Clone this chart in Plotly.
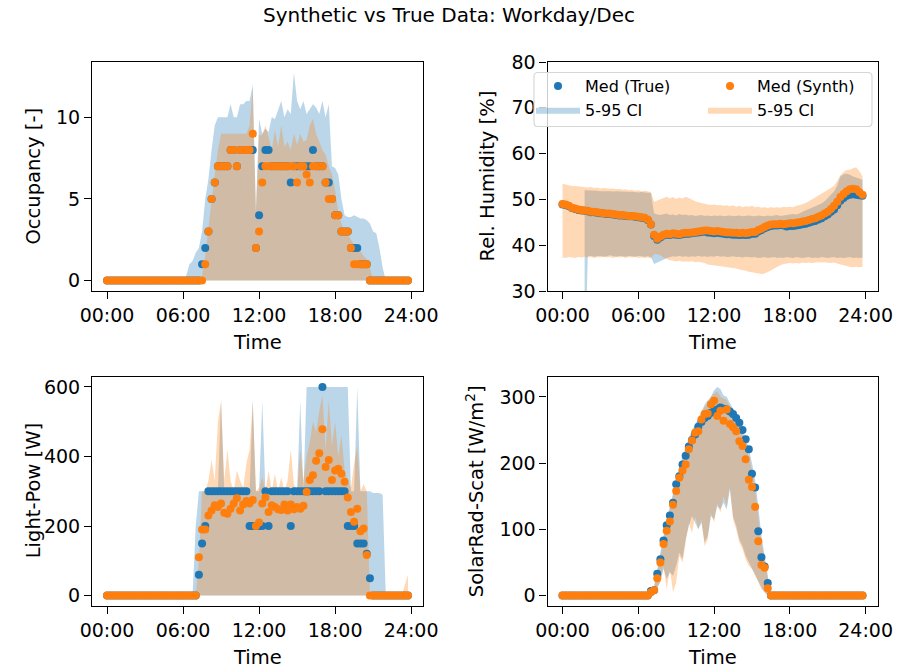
import plotly.graph_objects as go
from plotly.subplots import make_subplots

# ---------------- data (96 quarter-hour steps, hours 0 .. 23.75) ----------------
hours = [i * 0.25 for i in range(96)]
tick_vals = [0, 6, 12, 18, 24]
tick_text = ["00:00", "06:00", "12:00", "18:00", "24:00"]

# Occupancy
occ_true_med = [0]*30 + [1, 2, 3, 5, 6, 7, 7, 7, 7, 8,
                         8, 7, 8, 8, 8, 8, 8, 2, 4, 7,
                         8, 8, 7, 7, 7, 7, 7, 7, 6, 7,
                         7, 7, 7, 7, 7, 8, 7, 7, 7, 6,
                         6, 5, 4, 4, 3, 3, 3, 2, 2, 2,
                         1, 1, 1] + [0]*13
occ_synth_med = [0]*31 + [1, 3, 5, 6, 7, 7, 7, 7, 8,
                          8, 7, 8, 8, 8, 8, 9, 2, 3, 6,
                          7, 7, 7, 7, 7, 7, 7, 7, 7, 7,
                          6, 7, 7, 6.5, 6, 7, 7, 7, 7, 6,
                          5, 5, 4, 4, 3, 3, 3, 2, 1, 1,
                          1, 1, 1] + [0]*13
occ_true_hi = [0]*25 + [0.3, 1.0, 1.2, 1.7, 2.0,
                        3.0, 5.0, 6.2, 8.0, 9.5, 10.0, 10.0, 10.0, 10.0, 10.8,
                        10.0, 10.0, 10.8, 10.8, 11.0, 11.0, 12.0, 4.2, 9.9, 9.0,
                        9.3, 9.1, 10.0, 9.9, 10.5, 11.0, 10.0, 10.5, 10.2, 12.75,
                        11.0, 10.5, 11.0, 10.2, 10.5, 10.8, 10.6, 10.2, 11.0, 10.0,
                        10.8, 7.0, 6.9, 6.5, 5.0, 4.0, 3.9, 3.9, 4.0, 3.9,
                        3.8, 3.8, 3.7, 3.5, 3.0, 2.9, 2.0, 0.8] + [0]*8
occ_true_lo = [0]*96
occ_synth_hi = [0]*30 + [0.3, 1.5, 3.2, 5.0, 6.5, 8.0, 9.0, 9.0, 9.0, 9.0,
                         9.0, 9.0, 9.0, 9.0, 9.0, 9.5, 11.8, 4.2, 8.9, 8.9,
                         9.5, 8.8, 8.0, 9.2, 8.2, 9.5, 8.2, 8.5, 8.0, 9.0,
                         8.3, 9.0, 8.5, 8.6, 9.5, 9.9, 9.0, 8.5, 8.0, 7.7,
                         7.0, 6.5, 5.5, 4.2, 3.5, 3.0, 2.8, 2.5, 2.2, 2.0,
                         1.8, 1.5, 1.3, 0.8] + [0]*12
occ_synth_lo = [0]*96

# Relative humidity
hum_synth_med = [49.0, 48.9, 48.6, 48.2, 48.0, 47.8, 47.7, 47.6, 47.5, 47.3,
                 47.3, 47.2, 47.1, 47.0, 46.9, 46.9, 46.8, 46.7, 46.6, 46.6,
                 46.5, 46.4, 46.4, 46.3, 46.2, 46.1, 46.0, 45.6, 44.6, 42.3,
                 41.4, 41.9, 42.3, 42.5, 42.4, 42.6, 42.5, 42.4, 42.6, 42.7,
                 42.7, 42.8, 42.9, 43.0, 43.1, 43.2, 43.2, 43.1, 43.0, 43.1,
                 43.0, 42.9, 42.8, 42.8, 42.7, 42.7, 42.6, 42.7, 42.6, 42.7,
                 42.9, 42.9, 43.3, 43.6, 44.0, 44.3, 44.5, 44.6, 44.6, 44.7,
                 44.6, 44.7, 44.8, 44.8, 44.9, 45.0, 45.2, 45.3, 45.5, 45.7,
                 45.9, 46.2, 46.5, 46.9, 47.3, 47.9, 48.6, 49.5, 50.5, 51.2,
                 51.8, 52.2, 52.3, 52.2, 51.6, 51.0]
hum_true_med = [48.9, 48.8, 48.5, 48.1, 47.9, 47.7, 47.6, 47.5, 47.4, 47.2,
                47.2, 47.1, 47.0, 46.9, 46.8, 46.8, 46.7, 46.6, 46.5, 46.5,
                46.4, 46.3, 46.3, 46.2, 46.1, 46.0, 45.9, 45.5, 44.5, 42.0,
                41.2, 41.7, 42.1, 42.3, 42.2, 42.4, 42.3, 42.2, 42.4, 42.5,
                42.5, 42.6, 42.7, 42.8, 42.9, 43.0, 42.8, 42.7, 42.6, 42.7,
                42.6, 42.5, 42.4, 42.4, 42.3, 42.3, 42.2, 42.3, 42.2, 42.3,
                42.5, 42.5, 43.0, 43.3, 43.7, 44.0, 44.2, 44.3, 44.3, 44.4,
                44.3, 44.1, 44.2, 44.2, 44.3, 44.4, 44.6, 44.7, 44.9, 45.1,
                45.3, 45.6, 45.9, 46.3, 46.7, 47.3, 47.8, 48.7, 49.7, 50.3,
                50.8, 51.0, 51.1, 51.0, 50.9, 50.8]
hum_synth_hi = [53.4, 53.2, 53.0, 52.9, 52.9, 52.8, 52.8, 52.7, 52.6, 52.7,
                52.5, 52.6, 52.4, 52.5, 52.4, 52.3, 52.4, 52.2, 52.3, 52.1,
                52.2, 52.0, 52.1, 51.9, 52.0, 51.8, 51.9, 51.7, 51.6, 49.5,
                49.8, 50.1, 50.3, 50.6, 50.2, 50.5, 50.1, 50.4, 50.2, 50.6,
                50.3, 49.9, 49.6, 49.4, 49.2, 49.0, 48.9, 48.8, 48.9, 48.7,
                48.8, 48.6, 48.7, 48.5, 48.7, 48.4, 48.6, 48.3, 48.5, 48.4,
                48.6, 48.3, 48.4, 48.2, 48.3, 48.1, 48.3, 48.2, 48.3, 48.2,
                48.4, 48.3, 48.4, 48.3, 48.6, 48.7, 48.9, 49.2, 49.6, 50.0,
                50.4, 50.8, 51.2, 51.6, 52.0, 52.5, 53.0, 54.0, 55.3, 56.0,
                56.4, 56.5, 56.8, 57.0, 56.2, 55.0]
hum_synth_lo = [37.3, 37.2, 37.4, 37.3, 37.2, 37.4, 37.3, 37.5, 37.3, 37.4,
                37.2, 37.4, 37.3, 37.5, 37.3, 37.4, 37.2, 37.4, 37.3, 37.4,
                37.2, 37.4, 37.3, 37.4, 37.2, 37.3, 37.2, 37.3, 37.1, 38.0,
                38.0, 37.8, 37.3, 37.0, 36.7, 36.6, 36.5, 36.6, 36.4, 36.5,
                36.4, 36.5, 36.3, 36.4, 36.2, 36.1, 35.8, 35.7, 35.5, 35.4,
                35.3, 35.2, 35.1, 35.0, 35.0, 34.9, 34.7, 34.5, 34.4, 34.2,
                34.0, 33.9, 33.8, 33.7, 33.8, 34.1, 34.5, 34.9, 35.3, 35.6,
                35.9, 36.0, 36.1, 36.0, 36.1, 36.0, 36.2, 36.1, 36.2, 36.1,
                36.2, 36.3, 36.2, 36.3, 36.2, 36.1, 36.2, 36.0, 35.8, 35.6,
                35.4, 35.3, 35.2, 35.3, 35.2, 35.3]
hum_true_hi = [None]*7 + [52.0, 52.0, 51.9,
               51.9, 51.9, 51.8, 51.8, 51.9, 51.8, 51.7, 51.8, 51.7, 51.7,
               51.6, 51.7, 51.6, 51.6, 51.5, 51.6, 51.5, 51.5, 51.4, 47.0,
               46.7, 46.6, 46.8, 46.9, 46.6, 46.7, 46.5, 46.8, 46.6, 46.7,
               46.5, 46.6, 46.4, 46.5, 46.6, 46.4, 46.5, 46.3, 46.5, 46.4,
               46.5, 46.3, 46.4, 46.5, 46.3, 46.4, 46.5, 46.3, 46.4, 46.5,
               46.4, 46.3, 46.5, 46.4, 46.3, 46.5, 46.4, 46.5, 46.6, 46.4,
               46.5, 46.6, 46.7, 46.8, 46.7, 46.9, 47.3, 47.6, 47.9, 48.2,
               48.5, 48.8, 49.1, 49.6, 50.3, 51.0, 51.7, 53.0, 55.0, 55.5,
               55.6, 55.4, 55.0, 54.8, 54.5, 54.3]
hum_true_lo = [None]*7 + [10.0, 37.6, 37.7,
               37.5, 37.6, 37.7, 37.5, 37.6, 37.8, 37.6, 37.5, 37.7, 37.6,
               37.5, 37.7, 37.6, 37.5, 37.7, 37.6, 37.5, 37.6, 37.4, 35.9,
               36.2, 36.5, 36.8, 37.2, 37.4, 37.6, 37.5, 37.7, 37.5, 37.6,
               37.4, 37.6, 37.5, 37.7, 37.5, 37.6, 37.4, 37.6, 37.5, 37.7,
               37.5, 37.6, 37.4, 37.5, 37.6, 37.4, 37.5, 37.3, 37.5, 37.4,
               37.3, 37.4, 37.2, 37.3, 37.4, 37.2, 37.3, 37.4, 37.2, 37.3,
               37.2, 37.4, 37.3, 37.2, 37.4, 37.3, 37.2, 37.3, 37.4, 37.2,
               37.3, 37.2, 37.4, 37.3, 37.2, 37.3, 37.4, 37.2, 37.3, 37.2,
               37.3, 37.4, 37.2, 37.3, 37.2, 37.3]

# Light power
light_true_med = ([0]*29 + [60, 150, 200] + [300]*13 + [200]*5 + [300] + [200] +
                  [300]*6 + [200] + [300]*9 + [600] + [300]*7 + [200, 200, 200] +
                  [150, 150, 150] + [120, 50] + [0]*12)
light_synth_med = [0]*29 + [110, 190, 190, 230, 245, 260, 255, 265, 238, 235, 250,
                            265, 280, 245, 262, 272, 265, 275, 200, 210, 265,
                            282, 240, 260, 255, 248, 246, 262, 245, 262, 248,
                            255, 250, 258, 298, 332, 346, 388, 409, 478, 370,
                            390, 332, 360, 365, 350, 327, 282, 240, 212, 250,
                            185, 193, 117] + [0]*13
light_true_hi = [0]*28 + [200, 300, 300, 300, 300, 300, 300, 300, 560, 300,
                          300, 300, 300, 300, 300, 300, 300, 300, 560, 300,
                          300, 560, 300, 300, 300, 300, 300, 300, 300, 300,
                          300, 300, 300, 560, 300, 600, 600, 600, 600, 600,
                          600, 600, 600, 600, 600, 600, 600, 600, 600, 300,
                          300, 600, 300, 300, 300, 300, 295, 295, 295, 290] + [0]*8
light_true_lo = [0]*96
light_synth_hi = [0]*29 + [100, 300, 300, 330, 390, 330, 500, 560, 330, 420, 330,
                           300, 360, 330, 310, 380, 420, 560, 300, 310, 340,
                           300, 360, 300, 350, 300, 340, 300, 330, 420, 320,
                           300, 420, 330, 400, 440, 500, 470, 530, 575, 420,
                           560, 430, 500, 400, 460, 360, 330, 310, 380, 430,
                           300, 320, 300, 0] + [0]*10 + [30, 60]
light_synth_lo = [0]*96

# Scattered solar radiation
solar_true_med = [0]*28 + [7, 8, 33, 55, 83, 106, 121, 140, 168, 180,
                           198, 211, 225, 235, 243, 255, 262, 268, 271, 276,
                           279, 281, 284, 282, 281, 278, 274, 268, 261, 250,
                           236, 221, 184, 163, 97, 58, 44, 19] + [0]*30
solar_synth_med = [0]*28 + [5, 8, 26, 50, 78, 98, 112, 137, 158, 178,
                            189, 198, 221, 234, 246, 248, 266, 274, 275, 289,
                            294, 271, 279, 264, 281, 259, 254, 248, 233, 226,
                            206, 175, 164, 134, 82, 46, 42, 11] + [0]*30
solar_true_hi = [0]*28 + [8, 15, 40, 65, 92, 115, 135, 155, 178, 195,
                          210, 222, 238, 250, 258, 268, 278, 288, 295, 300,
                          310, 315, 312, 302, 300, 292, 282, 272, 262, 250,
                          238, 222, 200, 175, 135, 90, 60, 28] + [0]*30
solar_true_lo = [0]*28 + [0, 3, 12, 22, 40, 25, 35, 30, 45, 65,
                          55, 85, 105, 120, 110, 100, 110, 80, 90, 120,
                          115, 135, 130, 140, 130, 160, 120, 105, 85, 75,
                          60, 50, 42, 32, 22, 12, 5, 0] + [0]*30
solar_synth_hi = [0]*28 + [5, 12, 35, 60, 90, 110, 130, 150, 170, 190,
                           205, 215, 235, 245, 255, 262, 275, 285, 290, 300,
                           305, 308, 300, 298, 295, 285, 275, 265, 255, 245,
                           228, 210, 190, 160, 120, 80, 55, 25] + [0]*30
solar_synth_lo = [0]*28 + [0, 2, 10, 20, 45, 10, 40, 5, 20, 60,
                           50, 80, 110, 95, 120, 100, 115, 75, 85, 125,
                           110, 140, 125, 150, 135, 165, 115, 100, 80, 70,
                           55, 45, 40, 30, 20, 10, 5, 0] + [0]*30

# ---------------- styling ----------------
BLUE = "#1f77b4"
ORANGE = "#ff7f0e"
BLUE_F = "rgba(31,119,180,0.3)"
ORANGE_F = "rgba(255,127,14,0.3)"
FONT = "DejaVu Sans"
W, H = 897, 671

fig = make_subplots(rows=2, cols=2)


def band(xs, hi, lo):
    px, py_hi, py_lo = [], [], []
    for x, h, l in zip(xs, hi, lo):
        if h is None or l is None:
            continue
        px.append(x)
        py_hi.append(h)
        py_lo.append(l)
    return px + px[::-1], py_hi + py_lo[::-1]


panels = [
    (1, 1, occ_true_med, occ_true_hi, occ_true_lo, occ_synth_med, occ_synth_hi, occ_synth_lo),
    (1, 2, hum_true_med, hum_true_hi, hum_true_lo, hum_synth_med, hum_synth_hi, hum_synth_lo),
    (2, 1, light_true_med, light_true_hi, light_true_lo, light_synth_med, light_synth_hi, light_synth_lo),
    (2, 2, solar_true_med, solar_true_hi, solar_true_lo, solar_synth_med, solar_synth_hi, solar_synth_lo),
]

for (r, c, tmed, thi, tlo, smed, shi, slo) in panels:
    legend_panel = (r == 1 and c == 2)
    bx, by = band(hours, thi, tlo)
    fig.add_trace(go.Scatter(x=bx, y=by, fill="toself", fillcolor=BLUE_F, mode="lines",
                             line=dict(width=0, color=BLUE_F), name="5-95 CI",
                             showlegend=legend_panel, legend="legend", legendrank=2,
                             hoverinfo="skip"), row=r, col=c)
    ox, oy = band(hours, shi, slo)
    fig.add_trace(go.Scatter(x=ox, y=oy, fill="toself", fillcolor=ORANGE_F, mode="lines",
                             line=dict(width=0, color=ORANGE_F), name="5-95 CI",
                             showlegend=legend_panel, legend="legend2", legendrank=2,
                             hoverinfo="skip"), row=r, col=c)
    fig.add_trace(go.Scatter(x=hours, y=tmed, mode="markers", name="Med (True)",
                             marker=dict(color=BLUE, size=8, line=dict(width=0)),
                             showlegend=legend_panel, legend="legend", legendrank=1),
                  row=r, col=c)
    fig.add_trace(go.Scatter(x=hours, y=smed, mode="markers", name="Med (Synth)",
                             marker=dict(color=ORANGE, size=8, line=dict(width=0)),
                             showlegend=legend_panel, legend="legend2", legendrank=1),
                  row=r, col=c)

xl = [92 / W, 423 / W]
xr = [547.5 / W, 877.5 / W]
yt = [1 - 291 / H, 1 - 62 / H]
yb = [1 - 606 / H, 1 - 376.5 / H]

axis_common = dict(showline=True, mirror=True, linecolor="black", linewidth=1.1,
                   ticks="outside", ticklen=7, tickwidth=1.1, tickcolor="black",
                   showgrid=False, zeroline=False, automargin=False,
                   tickfont=dict(family=FONT, size=19, color="black"))
xr_range = [-1.1875, 24.9375]

fig.update_layout(
    xaxis=dict(domain=xl, range=xr_range, tickvals=tick_vals, ticktext=tick_text, **axis_common),
    xaxis2=dict(domain=xr, range=xr_range, tickvals=tick_vals, ticktext=tick_text, **axis_common),
    xaxis3=dict(domain=xl, range=xr_range, tickvals=tick_vals, ticktext=tick_text, **axis_common),
    xaxis4=dict(domain=xr, range=xr_range, tickvals=tick_vals, ticktext=tick_text, **axis_common),
    yaxis=dict(domain=yt, range=[-0.6375, 13.3875], tickvals=[0, 5, 10], **axis_common),
    yaxis2=dict(domain=yt, range=[30, 80], tickvals=[30, 40, 50, 60, 70, 80], **axis_common),
    yaxis3=dict(domain=yb, range=[-30, 630], tickvals=[0, 200, 400, 600], **axis_common),
    yaxis4=dict(domain=yb, range=[-15.75, 330.75], tickvals=[0, 100, 200, 300], **axis_common),
)

ann_font = dict(family=FONT, size=19.5, color="black")
annotations = [
    dict(text="Synthetic vs True Data: Workday/Dec", x=0.5, y=1 - 15 / H, xref="paper", yref="paper",
         xanchor="center", yanchor="middle", showarrow=False, font=dict(family=FONT, size=20, color="black")),
    dict(text="Time", x=sum(xl) / 2, y=1 - 342 / H, xref="paper", yref="paper",
         xanchor="center", yanchor="middle", showarrow=False, font=ann_font),
    dict(text="Time", x=sum(xr) / 2, y=1 - 342 / H, xref="paper", yref="paper",
         xanchor="center", yanchor="middle", showarrow=False, font=ann_font),
    dict(text="Time", x=sum(xl) / 2, y=1 - 657 / H, xref="paper", yref="paper",
         xanchor="center", yanchor="middle", showarrow=False, font=ann_font),
    dict(text="Time", x=sum(xr) / 2, y=1 - 657 / H, xref="paper", yref="paper",
         xanchor="center", yanchor="middle", showarrow=False, font=ann_font),
    dict(text="Occupancy [-]", x=33 / W, y=sum(yt) / 2, xref="paper", yref="paper", textangle=-90,
         xanchor="center", yanchor="middle", showarrow=False, font=ann_font),
    dict(text="Rel. Humidity [%]", x=487 / W, y=sum(yt) / 2, xref="paper", yref="paper", textangle=-90,
         xanchor="center", yanchor="middle", showarrow=False, font=ann_font),
    dict(text="Light-Pow [W]", x=33 / W, y=sum(yb) / 2, xref="paper", yref="paper", textangle=-90,
         xanchor="center", yanchor="middle", showarrow=False, font=ann_font),
    dict(text="SolarRad-Scat [W/m<sup>2</sup>]", x=475 / W, y=sum(yb) / 2, xref="paper", yref="paper",
         textangle=-90, xanchor="center", yanchor="middle", showarrow=False, font=ann_font),
]

# legend frame (rounded rectangle) in paper pixels
lx0, lx1, ly0, ly1, rr = 534, 872, 72.5, 126.5, 4


def px_x(v):
    return v / W


def px_y(v):
    return 1 - v / H


frame_path = (
    f"M{px_x(lx0 + rr)},{px_y(ly0)} L{px_x(lx1 - rr)},{px_y(ly0)} "
    f"Q{px_x(lx1)},{px_y(ly0)} {px_x(lx1)},{px_y(ly0 + rr)} "
    f"L{px_x(lx1)},{px_y(ly1 - rr)} Q{px_x(lx1)},{px_y(ly1)} {px_x(lx1 - rr)},{px_y(ly1)} "
    f"L{px_x(lx0 + rr)},{px_y(ly1)} Q{px_x(lx0)},{px_y(ly1)} {px_x(lx0)},{px_y(ly1 - rr)} "
    f"L{px_x(lx0)},{px_y(ly0 + rr)} Q{px_x(lx0)},{px_y(ly0)} {px_x(lx0 + rr)},{px_y(ly0)} Z"
)

leg_common = dict(bgcolor="rgba(0,0,0,0)", borderwidth=0, orientation="v",
                  font=dict(family=FONT, size=16, color="black"), itemwidth=44,
                  xanchor="left", yanchor="top", tracegroupgap=0)

fig.update_layout(
    width=W, height=H,
    margin=dict(l=0, r=0, t=0, b=0, pad=0, autoexpand=False),
    paper_bgcolor="white", plot_bgcolor="white",
    font=dict(family=FONT, color="black"),
    annotations=annotations,
    shapes=[dict(type="path", path=frame_path, xref="paper", yref="paper",
                 fillcolor="rgba(255,255,255,0.8)", line=dict(color="#d6d6d6", width=1.1),
                 layer="above")],
    legend=dict(x=531 / W, y=1 - 69 / H, **leg_common),
    legend2=dict(x=703 / W, y=1 - 69 / H, **leg_common),
    showlegend=True,
)

fig.write_html("out.html")
